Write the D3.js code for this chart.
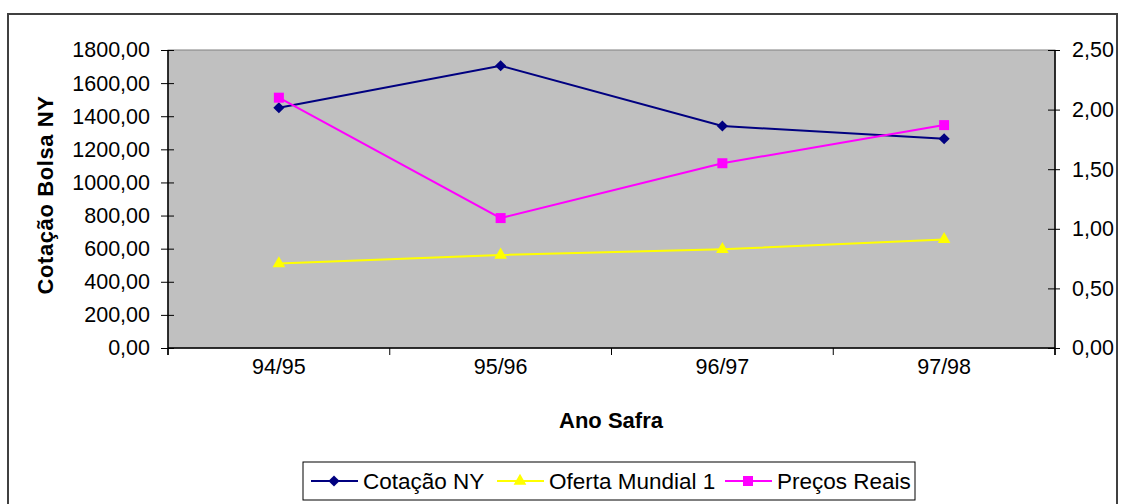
<!DOCTYPE html>
<html>
<head>
<meta charset="utf-8">
<script src="https://cdn.jsdelivr.net/npm/d3@7"></script>
<style>
  body { margin: 0; background: #fff; }
  svg { display: block; font-family: "Liberation Sans", Arial, sans-serif; }
</style>
</head>
<body>
<div class="canvas-container"></div>
<script>
var categories = ["94/95", "95/96", "96/97", "97/98"];
var cotacaoNY = [1451, 1705, 1341, 1264];
var ofertaMundial = [510, 562, 596, 656];
var precosReais = [2.10, 1.09, 1.55, 1.87];
var leftTicks = [0, 200, 400, 600, 800, 1000, 1200, 1400, 1600, 1800];
var rightTicks = [0, 0.5, 1, 1.5, 2, 2.5];

(function () {
    "use strict";

    var width = 1125, height = 504;
    var plot = { left: 168, top: 50, right: 1055, bottom: 348 };
    var fmt = function (v) { return d3.format(".2f")(v).replace(".", ","); };

    var svg = d3.select("div.canvas-container")
        .append("svg")
        .attr("width", width)
        .attr("height", height);

    // outer chart border
    svg.append("rect")
        .attr("x", 8).attr("y", 14)
        .attr("width", 1109).attr("height", 520)
        .attr("fill", "#fff")
        .attr("stroke", "#404040")
        .attr("stroke-width", 2);

    var x = d3.scaleBand().domain(categories)
        .range([plot.left, plot.right]);
    var yL = d3.scaleLinear().domain([0, 1800])
        .range([plot.bottom, plot.top]);
    var yR = d3.scaleLinear().domain([0, 2.5])
        .range([plot.bottom, plot.top]);

    // plot area
    svg.append("rect")
        .attr("x", plot.left).attr("y", plot.top)
        .attr("width", plot.right - plot.left)
        .attr("height", plot.bottom - plot.top)
        .attr("fill", "#c0c0c0")
        .attr("stroke", "#808080")
        .attr("stroke-width", 1);

    // left axis
    var gL = svg.append("g")
        .attr("transform", "translate(" + plot.left + ",0)")
        .call(d3.axisLeft(yL).tickValues(leftTicks).tickFormat(fmt)
              .tickSize(7).tickPadding(11));
    gL.selectAll(".tick line").attr("x2", -7).attr("x1", 6);

    // right axis
    var gR = svg.append("g")
        .attr("transform", "translate(" + plot.right + ",0)")
        .call(d3.axisRight(yR).tickValues(rightTicks).tickFormat(fmt)
              .tickSize(5).tickPadding(12));
    gR.selectAll(".tick line").attr("x1", -7);

    // bottom axis
    var gB = svg.append("g")
        .attr("transform", "translate(0," + plot.bottom + ")")
        .call(d3.axisBottom(x).tickSize(0).tickPadding(26));
    gB.selectAll(".tick text").attr("dy", "0");
    gB.selectAll("line.sep")
        .data(d3.range(categories.length + 1))
        .enter().append("line")
        .attr("class", "sep")
        .attr("x1", function (i) { return plot.left + i * x.step(); })
        .attr("x2", function (i) { return plot.left + i * x.step(); })
        .attr("y1", 0).attr("y2", 7)
        .attr("stroke", "#000");

    [gL, gR, gB].forEach(function (g) {
        g.selectAll(".tick line").attr("stroke", "#000");
        g.selectAll("text").attr("font-size", "21.5px")
            .attr("fill", "#000")
            .attr("font-family", "Liberation Sans, Arial, sans-serif");
        g.select(".domain").remove();
    });
    svg.append("line").attr("x1", plot.left).attr("x2", plot.left)
        .attr("y1", plot.top).attr("y2", plot.bottom + 7).attr("stroke", "#000").attr("stroke-width", 1.5);
    svg.append("line").attr("x1", plot.right).attr("x2", plot.right)
        .attr("y1", plot.top).attr("y2", plot.bottom + 7).attr("stroke", "#000").attr("stroke-width", 1.5);
    svg.append("line").attr("x1", plot.left).attr("x2", plot.right)
        .attr("y1", plot.bottom).attr("y2", plot.bottom).attr("stroke", "#000").attr("stroke-width", 1.5);

    // axis titles
    svg.append("text")
        .attr("x", 611).attr("y", 428)
        .attr("text-anchor", "middle")
        .attr("font-size", "22px").attr("font-weight", "bold")
        .text("Ano Safra");
    svg.append("text")
        .attr("transform", "translate(53,195) rotate(-90)")
        .attr("text-anchor", "middle")
        .attr("font-size", "22px").attr("font-weight", "bold")
        .attr("letter-spacing", "0.6px")
        .text("Cotação Bolsa NY");

    var cx = function (d, i) { return x(categories[i]) + x.bandwidth() / 2; };

    var series = [
        { name: "Cotação NY", values: cotacaoNY, scale: yL, color: "#000080", shape: d3.symbolSquare, size: 62, rot: 45 },
        { name: "Oferta Mundial 1", values: ofertaMundial, scale: yL, color: "#ffff00", shape: d3.symbolTriangle, size: 70, rot: 0 },
        { name: "Preços Reais", values: precosReais, scale: yR, color: "#ff00ff", shape: d3.symbolSquare, size: 100, rot: 0 }
    ];

    series.forEach(function (s) {
        var line = d3.line()
            .x(cx)
            .y(function (d) { return s.scale(d); });
        svg.append("path")
            .datum(s.values)
            .attr("fill", "none")
            .attr("stroke", s.color)
            .attr("stroke-width", 2)
            .attr("d", line);
        svg.selectAll(null)
            .data(s.values)
            .enter().append("path")
            .attr("d", d3.symbol().type(s.shape).size(s.size))
            .attr("fill", s.color)
            .attr("transform", function (d, i) {
                return "translate(" + cx(d, i) + "," + s.scale(d) + ") rotate(" + s.rot + ")";
            });
    });

    // legend
    var legend = svg.append("g");
    legend.append("rect")
        .attr("x", 303).attr("y", 462)
        .attr("width", 612).attr("height", 38)
        .attr("fill", "#fff")
        .attr("stroke", "#000")
        .attr("stroke-width", 1);

    var legendX = [311, 497, 725];
    var textX = [363, 549, 777];
    series.forEach(function (s, i) {
        legend.append("line")
            .attr("x1", legendX[i]).attr("x2", legendX[i] + 47)
            .attr("y1", 481).attr("y2", 481)
            .attr("stroke", s.color).attr("stroke-width", 2);
        legend.append("path")
            .attr("d", d3.symbol().type(s.shape).size(s.size))
            .attr("fill", s.color)
            .attr("transform", "translate(" + (legendX[i] + 23) + ",481) rotate(" + s.rot + ")");
        legend.append("text")
            .attr("x", textX[i]).attr("y", 489)
            .attr("font-size", "22.5px")
            .text(s.name);
    });
})();
</script>
</body>
</html>
